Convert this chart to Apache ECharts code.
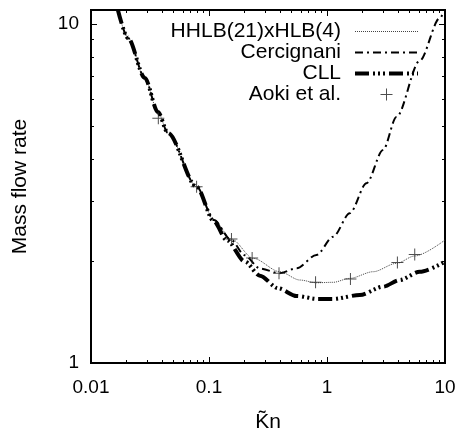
<!DOCTYPE html>
<html>
<head>
<meta charset="utf-8">
<script src="https://cdn.jsdelivr.net/npm/echarts@6/dist/echarts.min.js"></script>
<style>html,body{margin:0;padding:0;background:#fff;}#c{width:462px;height:429px;}</style>
</head>
<body>
<div id="c"></div>
<script>
// ---- data ----
const hhlbKn  = [0.0169, 0.0206, 0.0286, 0.0369, 0.0449, 0.0785, 0.11, 0.155, 0.237, 0.398, 0.589, 0.815, 1.127, 1.56, 2.46, 3.88, 5.54, 10];
const hhlbVal = [11.0, 9.09, 6.93, 5.50, 4.77, 3.31, 2.64, 2.32, 2.036, 1.859, 1.757, 1.725, 1.73, 1.777, 1.859, 1.968, 2.069, 2.306];

const cercKn  = [0.0169, 0.0206, 0.0286, 0.0369, 0.0449, 0.0785, 0.11, 0.155, 0.20, 0.27, 0.398, 0.552, 0.815, 1.127, 1.56, 2.16, 2.985, 3.88, 6.11, 9.02, 10];
const cercVal = [11.0, 9.09, 6.93, 5.50, 4.77, 3.31, 2.64, 2.30, 2.08, 1.90, 1.84, 1.903, 2.083, 2.358, 2.765, 3.39, 4.25, 5.32, 7.8, 10.4, 11.1];

const cllKn  = [0.0169, 0.0206, 0.0286, 0.0369, 0.0449, 0.0785, 0.11, 0.141, 0.2015, 0.27, 0.385, 0.552, 0.841, 1.127, 1.896, 2.985, 4.13, 6.11, 10];
const cllVal = [11.0, 9.09, 6.93, 5.50, 4.77, 3.31, 2.62, 2.306, 1.99, 1.81, 1.661, 1.576, 1.545, 1.545, 1.587, 1.679, 1.757, 1.859, 1.99];

const aokiKn  = [0.0372, 0.0785, 0.155, 0.232, 0.392, 0.80, 1.58, 3.95, 5.54];
const aokiVal = [5.27, 3.31, 2.32, 2.04, 1.84, 1.73, 1.77, 1.98, 2.09];

const seriesNames = ['HHLB(21)xHLB(4)', 'Cercignani', 'CLL', 'Aoki et al.'];
const xMajor = [0.01, 0.1, 1, 10];
const xMinor = [0.02,0.03,0.04,0.05,0.06,0.07,0.08,0.09,0.2,0.3,0.4,0.5,0.6,0.7,0.8,0.9,2,3,4,5,6,7,8,9];
const yMajor = [1, 10];
const yMinor = [2,3,4,5,6,7,8,9];

// ---- chart ----
const FONT = 'Liberation Sans, Arial, Helvetica, sans-serif';
const zip = (a, b) => a.map((v, i) => [v, b[i]]);

function xAx(pos, values, len, labels) {
  return {
    type: 'log', logBase: 10, min: 0.01, max: 10, position: pos, gridIndex: 0,
    axisLine: { show: false }, splitLine: { show: false }, minorTick: { show: false },
    axisTick: { show: true, inside: true, length: len, customValues: values, lineStyle: { color: '#000', width: 1 } },
    axisLabel: labels ? { show: true, customValues: values, fontSize: 19, fontFamily: FONT, color: '#000', margin: 15 } : { show: false }
  };
}
function yAx(pos, values, len, labels) {
  return {
    type: 'log', logBase: 10, min: 1, max: 11, position: pos, gridIndex: 0,
    axisLine: { show: false }, splitLine: { show: false }, minorTick: { show: false },
    axisTick: { show: true, inside: true, length: len, customValues: values, lineStyle: { color: '#000', width: 1 } },
    axisLabel: labels ? { show: true, customValues: values, fontSize: 19, fontFamily: FONT, color: '#000', margin: 12 } : { show: false }
  };
}

const xAxes = [xAx('bottom', xMajor, 6, true), xAx('bottom', xMinor, 3, false), xAx('top', xMajor, 6, false), xAx('top', xMinor, 3, false)];
Object.assign(xAxes[0], { name: 'K\u0303n', nameLocation: 'middle', nameGap: 49, nameTextStyle: { fontSize: 21, fontFamily: FONT, color: '#000' } });
const yAxes = [yAx('left', yMajor, 6, true), yAx('left', yMinor, 3, false), yAx('right', yMajor, 6, false), yAx('right', yMinor, 3, false)];
Object.assign(yAxes[0], { name: 'Mass flow rate', nameLocation: 'middle', nameRotate: 90, nameGap: 60, nameTextStyle: { fontSize: 21, fontFamily: FONT, color: '#000' } });

const plusPath = 'path://M5.5,0 h1 v5.5 h5.5 v1 h-5.5 v5.5 h-1 v-5.5 h-5.5 v-1 h5.5 z';
const noSym = { opacity: 0 };

const chart = echarts.init(document.getElementById('c'), null, { renderer: 'canvas' });
chart.setOption({
  animation: false,
  backgroundColor: '#fff',
  grid: { left: 91, right: 17, top: 10, bottom: 66, show: true, borderColor: '#000', borderWidth: 2, backgroundColor: 'transparent', containLabel: false, outerBoundsMode: 'none' },
  xAxis: xAxes,
  yAxis: yAxes,
  legend: {
    orient: 'vertical', right: 42, top: 21, align: 'right', padding: 0,
    itemWidth: 63, itemHeight: 12, itemGap: 0,
    textStyle: { fontSize: 21, fontFamily: FONT, color: '#000', lineHeight: 21, padding: [0, 9, 0, 0] },
    data: [
      { name: seriesNames[0], lineStyle: { width: 1 }, itemStyle: noSym },
      { name: seriesNames[1], lineStyle: { width: 2 }, itemStyle: noSym },
      { name: seriesNames[2], lineStyle: { width: 4 }, itemStyle: noSym },
      { name: seriesNames[3] }
    ]
  },
  series: [
    { name: seriesNames[0], type: 'line', data: zip(hhlbKn, hhlbVal), symbol: 'none', smooth: 0.3, smoothMonotone: 'x',
      lineStyle: { color: '#444', width: 1, type: [1, 1] }, itemStyle: { color: '#444' }, z: 3 },
    { name: seriesNames[1], type: 'line', data: zip(cercKn, cercVal), symbol: 'none', smooth: 0.3, smoothMonotone: 'x',
      lineStyle: { color: '#000', width: 2, type: [8, 4, 2, 4] }, itemStyle: { color: '#000' }, z: 3 },
    { name: seriesNames[2], type: 'line', data: zip(cllKn, cllVal), symbol: 'none', smooth: 0.3, smoothMonotone: 'x',
      lineStyle: { color: '#000', width: 4, type: [14, 4, 2, 3, 2, 3, 2, 4] }, itemStyle: { color: '#000' }, z: 3 },
    { name: seriesNames[3], type: 'scatter', data: zip(aokiKn, aokiVal), symbol: plusPath, symbolSize: 12,
      itemStyle: { color: '#222' }, z: 4 }
  ]
});
</script>
</body>
</html>
